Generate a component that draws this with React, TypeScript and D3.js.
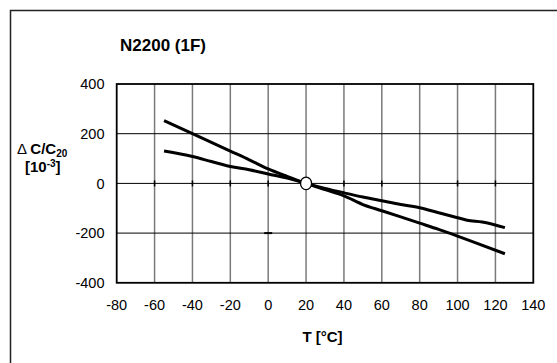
import { useEffect, useRef } from 'react'
import * as d3 from 'd3'

const xTicks = [-80, -60, -40, -20, 0, 20, 40, 60, 80, 100, 120, 140]
const yTicks = [-400, -200, 0, 200, 400]

// steeper curve
const steepT = [-55, -40, -30, -20, -10, 0, 10, 20, 30, 40, 50, 60, 70, 80, 90, 100, 110, 125]
const steepV = [253, 200, 165, 130, 95, 58, 28, 0, -25, -50, -85, -110, -135, -160, -185, -212, -240, -283]

// flatter curve
const flatT = [-55, -40, -30, -20, -10, 0, 10, 20, 30, 40, 50, 60, 70, 80, 90, 100, 105, 113, 125]
const flatV = [130, 108, 88, 68, 55, 38, 22, 0, -20, -38, -55, -70, -85, -98, -118, -138, -148, -155, -178]

const refPoint = { t: 20, v: 0 }

export default function App() {
  const svgRef = useRef<SVGSVGElement | null>(null)

  useEffect(() => {
    if (!svgRef.current) return
    const svg = d3.select(svgRef.current)
    svg.selectAll('*').remove()

    const W = 557, H = 363
    const left = 116.7, right = 533.3, top = 84, bottom = 282.8
    const font = 'Arial, "Liberation Sans", sans-serif'

    svg.attr('width', W).attr('height', H)

    // outer frame (runs off the right/bottom edge)
    svg.append('rect')
      .attr('x', 10.5).attr('y', 10.5)
      .attr('width', 560).attr('height', 370)
      .attr('fill', 'white')
      .attr('stroke', '#222').attr('stroke-width', 1.5)

    const x = d3.scaleLinear().domain([-80, 140]).range([left, right])
    const y = d3.scaleLinear().domain([-400, 400]).range([bottom, top])

    const g = svg.append('g')

    // vertical grid
    g.selectAll('.vgrid')
      .data(xTicks.slice(1, -1))
      .enter().append('line')
      .attr('x1', d => x(d)).attr('x2', d => x(d))
      .attr('y1', top).attr('y2', bottom)
      .attr('stroke', '#7a7a7a').attr('stroke-width', 1.5)

    // horizontal grid
    g.selectAll('.hgrid')
      .data(yTicks.slice(1, -1))
      .enter().append('line')
      .attr('x1', left).attr('x2', right)
      .attr('y1', d => y(d)).attr('y2', d => y(d))
      .attr('stroke', '#000').attr('stroke-width', 1)

    // little tick marks on the zero line
    g.selectAll('.ztick')
      .data(xTicks.slice(1, -1).filter(d => d !== 20 && d !== 80))
      .enter().append('line')
      .attr('x1', d => x(d)).attr('x2', d => x(d))
      .attr('y1', y(0) - 3).attr('y2', y(0) + 3)
      .attr('stroke', '#000').attr('stroke-width', 1.5)

    g.append('line')
      .attr('x1', x(0) - 4).attr('x2', x(0) + 4)
      .attr('y1', y(-200)).attr('y2', y(-200))
      .attr('stroke', '#000').attr('stroke-width', 2)

    // plot border
    g.append('rect')
      .attr('x', left).attr('y', top)
      .attr('width', right - left).attr('height', bottom - top)
      .attr('fill', 'none')
      .attr('stroke', '#000').attr('stroke-width', 1.8)

    const line = d3.line<[number, number]>()
      .x(d => x(d[0]))
      .y(d => y(d[1]))
      .curve(d3.curveMonotoneX)

    const steep = steepT.map((t, i) => [t, steepV[i]] as [number, number])
    const flat = flatT.map((t, i) => [t, flatV[i]] as [number, number])

    ;[steep, flat].forEach(s => {
      g.append('path')
        .datum(s)
        .attr('fill', 'none')
        .attr('stroke', '#000')
        .attr('stroke-width', 3)
        .attr('d', line)
    })

    g.append('ellipse')
      .attr('cx', x(refPoint.t)).attr('cy', y(refPoint.v))
      .attr('rx', 5.5).attr('ry', 6.3)
      .attr('fill', 'white')
      .attr('stroke', '#000').attr('stroke-width', 1.3)

    // tick labels
    g.selectAll('.ylab')
      .data(yTicks)
      .enter().append('text')
      .attr('x', 104.5).attr('y', d => y(d))
      .attr('dy', '0.36em')
      .attr('text-anchor', 'end')
      .style('font-family', font).style('font-size', '14.5px')
      .text(d => d)

    g.selectAll('.xlab')
      .data(xTicks)
      .enter().append('text')
      .attr('x', d => x(d)).attr('y', 310)
      .attr('text-anchor', 'middle')
      .style('font-family', font).style('font-size', '14.5px')
      .text(d => d)

    // title
    svg.append('text')
      .attr('x', 120).attr('y', 51)
      .style('font-family', font).style('font-size', '17px').style('font-weight', 'bold')
      .text('N2200 (1F)')

    // x axis title
    svg.append('text')
      .attr('x', 322.5).attr('y', 341.5)
      .attr('text-anchor', 'middle')
      .style('font-family', font).style('font-size', '15px').style('font-weight', 'bold')
      .text('T [°C]')

    // y axis title
    const yt = svg.append('text')
      .attr('x', 17).attr('y', 154)
      .style('font-family', font).style('font-weight', 'bold').style('font-size', '15px')
    yt.append('tspan').style('font-weight', 'normal').text('\u0394 ')
    yt.append('tspan').text('C/C')
    yt.append('tspan').attr('dy', 3).style('font-size', '10px').text('20')

    const yt2 = svg.append('text')
      .attr('x', 25).attr('y', 172)
      .style('font-family', font).style('font-weight', 'bold').style('font-size', '15px')
    yt2.append('tspan').text('[10')
    yt2.append('tspan').attr('dy', -5).style('font-size', '10px').text('-3')
    yt2.append('tspan').attr('dy', 5).text(']')
  }, [])

  return (
    <svg ref={svgRef} style={{ position: 'absolute', left: 0, top: 0, display: 'block' }}></svg>
  )
}
